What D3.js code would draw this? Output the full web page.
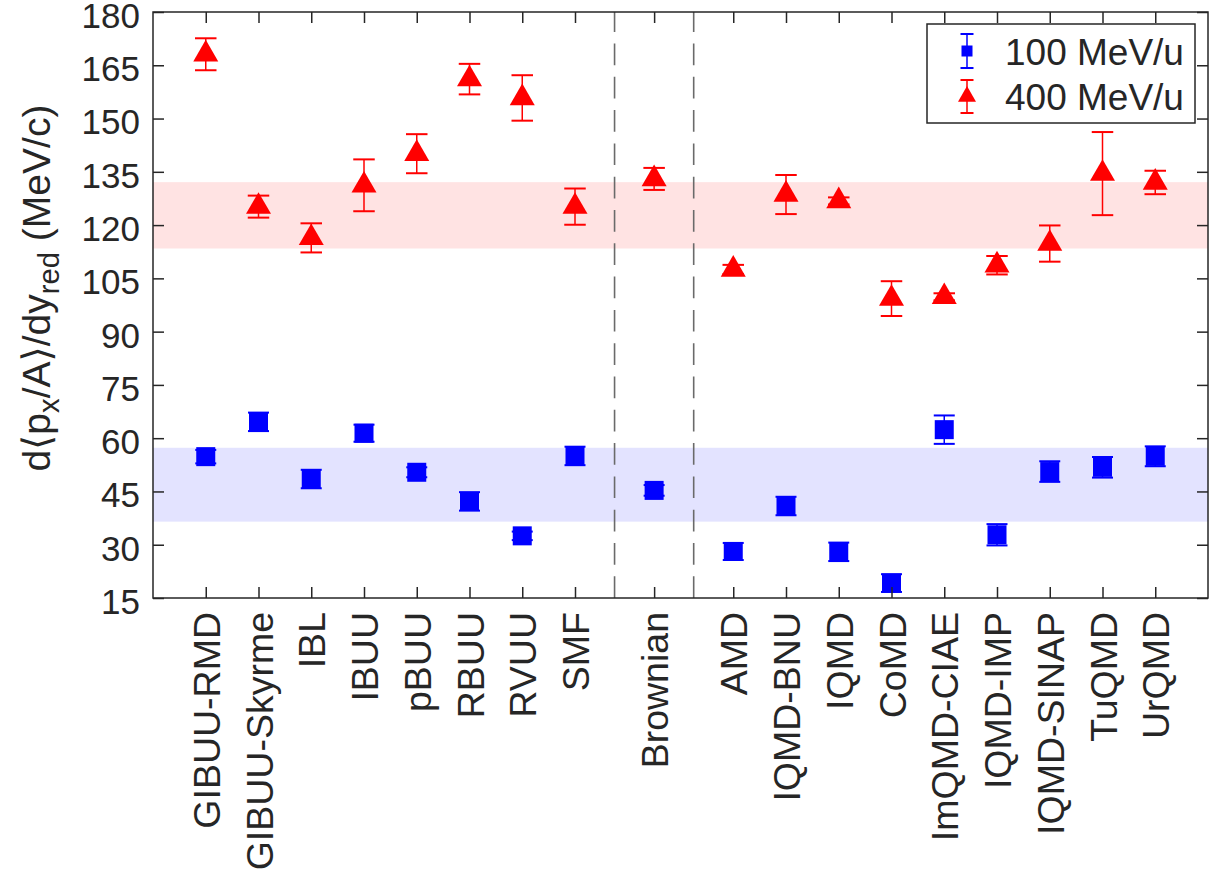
<!DOCTYPE html>
<html><head><meta charset="utf-8">
<script src="https://cdn.jsdelivr.net/npm/d3@7"></script>
<style>
body{margin:0;background:#fff}
text{font-family:"Liberation Sans",Arial,Helvetica,sans-serif;fill:#262626}
</style>
</head><body><svg id="chart" width="1214" height="872"></svg>
<script>
const categories = ["GIBUU-RMD","GIBUU-Skyrme","IBL","IBUU","pBUU","RBUU","RVUU","SMF","Brownian","AMD","IQMD-BNU","IQMD","CoMD","ImQMD-CIAE","IQMD-IMP","IQMD-SINAP","TuQMD","UrQMD"];
const positions = [1,2,3,4,5,6,7,8,9.5,11,12,13,14,15,16,17,18,19];
const values100 = [54.8,64.6,48.5,61.4,50.4,42.2,32.5,55.0,45.3,28.1,40.9,28.0,19.2,62.4,32.8,50.6,51.8,54.9];
const errors100 = [1.9,2.6,2.6,2.4,1.4,2.6,1.2,2.6,1.5,2.4,2.6,2.6,2.5,4.0,3.0,2.9,2.9,2.8];
const values400 = [168.1,125.2,116.4,131.2,140.1,161.1,155.8,125.2,133.0,107.5,128.6,126.8,99.3,99.8,108.7,114.8,134.5,132.0];
const errors400 = [4.5,3.1,4.1,7.3,5.5,4.3,6.4,5.1,3.1,1.3,5.5,1.0,4.9,1.0,2.6,5.1,11.7,3.3];
const band100 = [36.5,57.3];
const band400 = [113.4,132.1];
const separators = [8.75,10.25];
const yTicks = [15,30,45,60,75,90,105,120,135,150,165,180];
const seriesNames = ["100 MeV/u","400 MeV/u"];

const svg = d3.select("#chart");
const m = {left:153,right:1208,top:12,bottom:598};
const x = d3.scaleLinear().domain([0,20]).range([m.left,m.right]);
const y = d3.scaleLinear().domain([15,180]).range([m.bottom,m.top]);
const axisColor = "#262626";
const FS = 35;

// bands
svg.append("rect").attr("x",x(0)).attr("width",x(20)-x(0))
  .attr("y",y(band400[1])).attr("height",y(band400[0])-y(band400[1]))
  .attr("fill","#ff0000").attr("fill-opacity",0.11);
svg.append("rect").attr("x",x(0)).attr("width",x(20)-x(0))
  .attr("y",y(band100[1])).attr("height",y(band100[0])-y(band100[1]))
  .attr("fill","#0000ff").attr("fill-opacity",0.11);

// separators (drawn bottom to top)
separators.forEach(s=>{
  svg.append("line").attr("x1",x(s)).attr("x2",x(s)).attr("y1",y(15)).attr("y2",y(180))
    .attr("stroke","#6a6a6a").attr("stroke-width",1.6).attr("stroke-dasharray","21.7,11.6");
});

function tri(w){
  const h = w*Math.sqrt(3)/2;
  return `M0,${-2*h/3}L${w/2},${h/3}L${-w/2},${h/3}Z`;
}

function errbars(vals, errs, color, capW){
  const g = svg.append("g").attr("stroke",color).attr("stroke-width",1.5).attr("fill","none");
  vals.forEach((v,i)=>{
    const cx = x(positions[i]), y1 = y(v+errs[i]), y2 = y(v-errs[i]);
    g.append("line").attr("x1",cx).attr("x2",cx).attr("y1",y1).attr("y2",y2);
    g.append("line").attr("x1",cx-capW/2).attr("x2",cx+capW/2).attr("y1",y1).attr("y2",y1).attr("stroke-width",2);
    g.append("line").attr("x1",cx-capW/2).attr("x2",cx+capW/2).attr("y1",y2).attr("y2",y2).attr("stroke-width",2);
  });
}
errbars(values100, errors100, "#0000ff", 21);
errbars(values400, errors400, "#ff0000", 21.5);

svg.append("g").selectAll("rect").data(values100).join("rect")
  .attr("x",(d,i)=>x(positions[i])-9.5).attr("y",d=>y(d)-9.5)
  .attr("width",19).attr("height",19).attr("fill","#0000ff");
svg.append("g").selectAll("path").data(values400).join("path")
  .attr("transform",(d,i)=>`translate(${x(positions[i])},${y(d)})`)
  .attr("d",tri(25)).attr("fill","#ff0000");

// axes
function styleAxis(g, fs){
  g.select(".domain").remove();
  g.selectAll(".tick line").attr("stroke",axisColor).attr("stroke-width",1.5);
  g.selectAll("text").attr("font-size",fs).attr("fill",axisColor)
    .attr("font-family",'"Liberation Sans",Arial,Helvetica,sans-serif');
}
const gx = svg.append("g").attr("transform",`translate(0,${m.bottom})`)
  .call(d3.axisBottom(x).tickValues(positions).tickSize(-11).tickSizeOuter(0)
    .tickFormat((d,i)=>categories[i]));
styleAxis(gx, 37.5);
gx.selectAll("text").attr("transform","rotate(-90)").attr("x",-14).attr("y",0)
  .attr("dy","0.36em").attr("text-anchor","end");

const gy = svg.append("g").attr("transform",`translate(${m.left},0)`)
  .call(d3.axisLeft(y).tickValues(yTicks).tickSize(-11).tickSizeOuter(0).tickPadding(13));
styleAxis(gy, FS);
gy.selectAll("text").attr("dy","0.44em");

const gt = svg.append("g").attr("transform",`translate(0,${m.top})`)
  .call(d3.axisTop(x).tickValues(positions).tickSize(-11).tickSizeOuter(0).tickFormat(""));
styleAxis(gt, FS);
const gr = svg.append("g").attr("transform",`translate(${m.right},0)`)
  .call(d3.axisRight(y).tickValues(yTicks).tickSize(-11).tickSizeOuter(0).tickFormat(""));
styleAxis(gr, FS);

svg.append("rect").attr("x",m.left).attr("y",m.top).attr("width",m.right-m.left).attr("height",m.bottom-m.top)
  .attr("fill","none").attr("stroke",axisColor).attr("stroke-width",1.5);

// y label
const YL = 39;
const yl = svg.append("text").attr("transform",`translate(50,288) rotate(-90)`)
  .attr("text-anchor","middle").attr("font-size",YL).attr("fill",axisColor);
yl.append("tspan").text("d");
yl.append("tspan").attr("font-family","DejaVu Sans").attr("font-weight","300").text("\u27E8");
yl.append("tspan").text("p");
yl.append("tspan").attr("font-size",YL*0.75).attr("dy","0.3em").text("x");
yl.append("tspan").attr("dy","-0.22em").text("/A");
yl.append("tspan").attr("font-family","DejaVu Sans").text("\u27E9");
yl.append("tspan").text("/dy");
yl.append("tspan").attr("font-size",YL*0.75).attr("dy","0.3em").text("red");
yl.append("tspan").attr("dy","-0.22em").text(" (MeV/c)");

// legend
const lg = svg.append("g");
lg.append("rect").attr("x",927).attr("y",24).attr("width",268).attr("height",99)
  .attr("fill","#fff").attr("stroke",axisColor).attr("stroke-width",1.5);
const lx = 967;
const rows = [{c:"#0000ff",cy:51,top:34,bot:68},{c:"#ff0000",cy:96.5,top:80,bot:113}];
rows.forEach((r,i)=>{
  lg.append("line").attr("x1",lx).attr("x2",lx).attr("y1",r.top).attr("y2",r.bot).attr("stroke",r.c).attr("stroke-width",1.5);
  [r.top,r.bot].forEach(yy=>lg.append("line").attr("x1",lx-6.5).attr("x2",lx+6.5).attr("y1",yy).attr("y2",yy).attr("stroke",r.c).attr("stroke-width",2));
  if(i===0) lg.append("rect").attr("x",lx-5.5).attr("y",r.cy-5.5).attr("width",11).attr("height",11).attr("fill",r.c);
  else lg.append("path").attr("transform",`translate(${lx},${r.cy})`).attr("d",tri(18)).attr("fill",r.c);
  lg.append("text").attr("x",1005).attr("y",r.cy+13.5).attr("font-size",37).attr("fill","#000").text(seriesNames[i]);
});
</script></body></html>
